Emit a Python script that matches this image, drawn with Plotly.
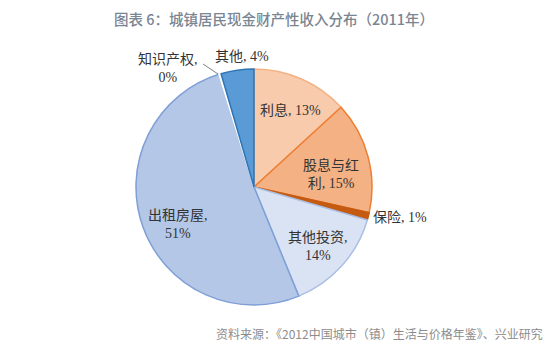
import plotly.graph_objects as go

categories = ["利息", "股息与红利", "保险", "其他投资", "出租房屋", "知识产权", "其他"]
values = [13.2, 15.3, 1.0, 14.3, 51.4, 0.3, 4.5]
pct_labels = ["13%", "15%", "1%", "14%", "51%", "0%", "4%"]

colors = ["#F8CBAD", "#F4B183", "#C55A11", "#DAE3F3", "#B4C7E7", "#FFFFFF", "#5B9BD5"]
line_colors = ["#F4B183", "#ED7D31", "#C55A11", "#A9BFE3", "#7F9FD6", "#FFFFFF", "#2E75B6"]

W, H = 554, 352
cx, cy, r = 254, 187, 118

fig = go.Figure()
fig.add_trace(go.Pie(
    labels=categories, values=values, sort=False, direction="clockwise",
    rotation=0, textinfo="none", hoverinfo="label+percent",
    marker=dict(colors=colors, line=dict(color=line_colors, width=1.5)),
    domain=dict(x=[(cx - r) / W, (cx + r) / W], y=[(H - cy - r) / H, (H - cy + r) / H]),
    showlegend=False,
))

label_font = dict(family="Liberation Serif, Noto Sans CJK SC", size=14, color="#333333")
# (text lines, x px, y px)
label_pos = {
    "利息": (["利息, " + pct_labels[0]], 290, 110),
    "股息与红利": (["股息与红", "利, " + pct_labels[1]], 331, 174),
    "保险": (["保险, " + pct_labels[2]], 400, 218),
    "其他投资": (["其他投资,", pct_labels[3]], 318, 246),
    "出租房屋": (["出租房屋,", pct_labels[4]], 178, 224),
    "知识产权": (["知识产权,", pct_labels[5]], 168, 68),
    "其他": (["其他, " + pct_labels[6]], 242, 57),
}
for cat in categories:
    lines, x, y = label_pos[cat]
    fig.add_annotation(x=x / W, y=1 - y / H, xref="paper", yref="paper",
                       text="<br>".join(lines), showarrow=False, font=label_font,
                       align="center", xanchor="center", yanchor="middle")

fig.add_shape(type="line", xref="paper", yref="paper",
              x0=203 / W, y0=1 - 64 / H, x1=218 / W, y1=1 - 74 / H,
              line=dict(color="#7f7f7f", width=1))

fig.add_annotation(x=274 / W, y=1 - 18 / H, xref="paper", yref="paper",
                   text="图表 6：城镇居民现金财产性收入分布（2011年）", showarrow=False,
                   font=dict(family="Noto Sans CJK SC", size=14.5, color="#7A8592", weight=500),
                   xanchor="center", yanchor="middle")
fig.add_annotation(x=545 / W, y=1 - 333 / H, xref="paper", yref="paper",
                   text="资料来源：《2012中国城市（镇）生活与价格年鉴》、兴业研究", showarrow=False,
                   font=dict(family="Noto Sans CJK SC", size=12, color="#8C8C8C"),
                   xanchor="right", yanchor="middle")

fig.update_layout(width=W, height=H, margin=dict(l=0, r=0, t=0, b=0),
                  paper_bgcolor="white", plot_bgcolor="white")
fig.write_html("out.html")
